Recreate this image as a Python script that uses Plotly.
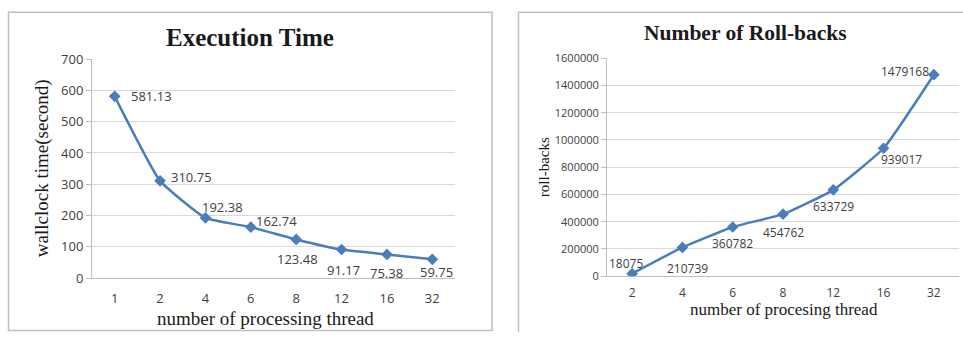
import plotly.graph_objects as go

# ---- data ----
threads_exec = ["1", "2", "4", "6", "8", "12", "16", "32"]
exec_time = [581.13, 310.75, 192.38, 162.74, 123.48, 91.17, 75.38, 59.75]
exec_labels = ["581.13", "310.75", "192.38", "162.74", "123.48", "91.17", "75.38", "59.75"]

threads_rb = ["2", "4", "6", "8", "12", "16", "32"]
rollbacks = [18075, 210739, 360782, 454762, 633729, 939017, 1479168]
rb_labels = ["18075", "210739", "360782", "454762", "633729", "939017", "1479168"]

W, H = 963, 341
LINE = "#4a7ebb"
GRID = "#d9d9d9"
TICK = "#404040"
SANS = "Open Sans, Noto Sans, sans-serif"
SERIF = "Liberation Serif, Times New Roman, serif"

def px(x):
    return x / W

def py(y):
    return 1 - y / H

fig = go.Figure()
fig.add_trace(go.Scatter(
    x=threads_exec, y=exec_time, mode="lines+markers",
    line=dict(color=LINE, width=2.5, shape="spline", smoothing=0.4),
    marker=dict(symbol="diamond", size=9, color=LINE),
    xaxis="x", yaxis="y", showlegend=False, hoverinfo="x+y"))
fig.add_trace(go.Scatter(
    x=threads_rb, y=rollbacks, mode="lines+markers",
    line=dict(color=LINE, width=2.5, shape="spline", smoothing=0.4),
    marker=dict(symbol="diamond", size=9, color=LINE),
    xaxis="x2", yaxis="y2", showlegend=False, hoverinfo="x+y"))

axis_common = dict(showline=True, linecolor="#bfbfbf", linewidth=1, zeroline=False,
                   fixedrange=True)
fig.update_layout(
    width=W, height=H, margin=dict(l=0, r=0, t=0, b=0),
    paper_bgcolor="white", plot_bgcolor="white",
    xaxis=dict(domain=[px(92), px(455)], type="category", range=[-0.5, 7.5],
               showgrid=False, ticks="", tickfont=dict(family=SANS, size=13, color=TICK),
               ticklabelstandoff=8, anchor="y", **axis_common),
    yaxis=dict(domain=[py(284), py(53)], range=[0, 700], dtick=100, showgrid=True,
               gridcolor=GRID, gridwidth=1, ticks="outside", ticklen=5, tickcolor="#bfbfbf",
               tickfont=dict(family=SANS, size=13, color=TICK), anchor="x", **axis_common),
    xaxis2=dict(domain=[px(607), px(959)], type="category", range=[-0.5, 6.5],
                showgrid=False, ticks="", tickfont=dict(family=SANS, size=12, color=TICK),
                ticklabelstandoff=5, anchor="y2", **axis_common),
    yaxis2=dict(domain=[py(282), py(52)], range=[0, 1600000], dtick=200000, showgrid=True,
                gridcolor=GRID, gridwidth=1, ticks="outside", ticklen=5, tickcolor="#bfbfbf",
                tickformat="d", tickfont=dict(family=SANS, size=11, color=TICK),
                anchor="x2", **axis_common),
)

annotations = []
# data labels, offsets in pixels relative to each point (x given as category index)
exec_off = [(37, 0), (31, -4), (17, -11), (26, -6), (1, 20), (2, 20), (0, 19), (4, 13)]
for i, (yv, t, (dx, dy)) in enumerate(zip(exec_time, exec_labels, exec_off)):
    annotations.append(dict(x=i, y=yv, xref="x", yref="y", text=t, showarrow=False,
                            xanchor="center", yanchor="middle", xshift=dx, yshift=-dy,
                            font=dict(family=SANS, size=13, color=TICK)))
rb_off = [(-6, -10), (5, 21), (0, 17), (0, 18), (0, 17), (18, 11), (-29, -3)]
for i, (yv, t, (dx, dy)) in enumerate(zip(rollbacks, rb_labels, rb_off)):
    annotations.append(dict(x=i, y=yv, xref="x2", yref="y2", text=t, showarrow=False,
                            xanchor="center", yanchor="middle", xshift=dx, yshift=-dy,
                            font=dict(family=SANS, size=12, color=TICK)))

def txt(x, y, t, size, bold=False, angle=0):
    return dict(x=px(x), y=py(y), xref="paper", yref="paper", showarrow=False,
                text=f"<b>{t}</b>" if bold else t, textangle=angle,
                xanchor="center", yanchor="middle",
                font=dict(family=SERIF, size=size, color="#1a1a1a"))

annotations += [
    txt(250, 30, "Execution Time", 25, bold=True),
    txt(745, 25, "Number of Roll-backs", 21.5, bold=True),
    txt(42, 168, "wallclock time(second)", 19, angle=-90),
    txt(544, 167, "roll-backs", 15, angle=-90),
    txt(265, 327, "number of processing thread", 19),
    txt(784, 317, "number of procesing thread", 17),
]
fig.update_layout(annotations=annotations)

# chart frames
frame = dict(color="#bfbfbf", width=1.5)
shapes = [
    dict(type="rect", xref="paper", yref="paper", x0=px(8.5), x1=px(492), y0=py(339.5), y1=py(3.5),
         line=frame, layer="below"),
    dict(type="line", xref="paper", yref="paper", x0=px(518.5), x1=px(518.5), y0=0, y1=py(3.5),
         line=frame, layer="below"),
    dict(type="line", xref="paper", yref="paper", x0=px(518.5), x1=1, y0=py(3.5), y1=py(3.5),
         line=frame, layer="below"),
]
fig.update_layout(shapes=shapes)

fig.write_html("out.html", config={"displayModeBar": False},
               post_script="document.body.style.margin='0px';document.body.style.overflow='hidden';")
